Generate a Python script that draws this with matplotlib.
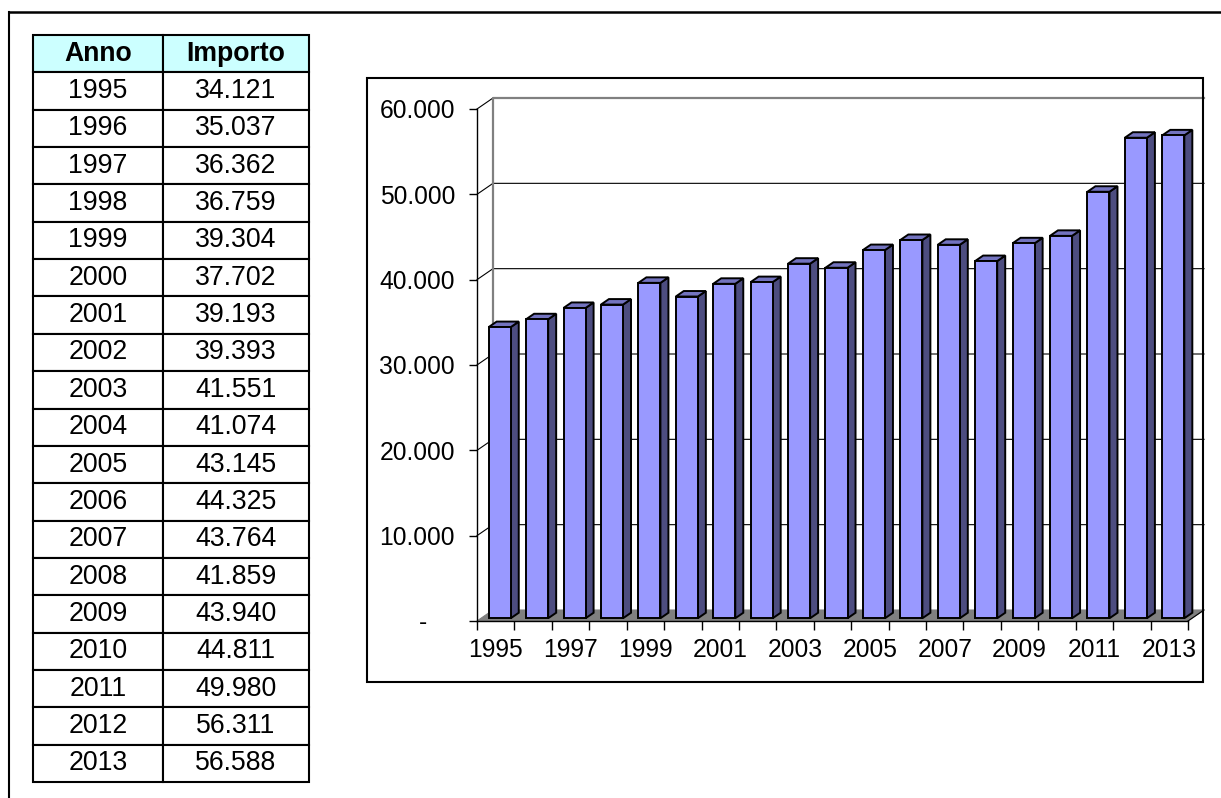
import matplotlib
matplotlib.use('Agg')
import matplotlib.pyplot as plt
from matplotlib.patches import Polygon, Rectangle
from matplotlib.lines import Line2D
from matplotlib.ticker import NullFormatter

# Dati
anni = [1995, 1996, 1997, 1998, 1999, 2000, 2001, 2002, 2003, 2004,
        2005, 2006, 2007, 2008, 2009, 2010, 2011, 2012, 2013]
importi = [34121, 35037, 36362, 36759, 39304, 37702, 39193, 39393, 41551, 41074,
           43145, 44325, 43764, 41859, 43940, 44811, 49980, 56311, 56588]
intestazioni = ['Anno', 'Importo']
tick_valori = [0, 10000, 20000, 30000, 40000, 50000, 60000]


def fmt(v):
    # separatore delle migliaia all'italiana
    return f"{v:,}".replace(",", ".")


plt.rcParams['font.family'] = ['Liberation Sans', 'DejaVu Sans']

W, H = 1221, 798
fig = plt.figure(figsize=(W / 100, H / 100), dpi=100)
fig.patch.set_facecolor('white')


def fx(px):
    return px / W


def fy(py):
    return 1 - py / H


# cornice esterna (tagliata a destra e in basso)
fig.add_artist(Line2D([fx(9), 1], [fy(11.5), fy(11.5)], color='black', lw=1.8))
fig.add_artist(Line2D([fx(9), fx(9)], [fy(11.5), 0], color='black', lw=1.5))

# tabella
ax_t = fig.add_axes([fx(33), fy(782), fx(309) - fx(33), fy(35) - fy(782)])
ax_t.axis('off')
righe = [[str(a), fmt(v)] for a, v in zip(anni, importi)]
tab = ax_t.table(cellText=righe, colLabels=intestazioni, cellLoc='center',
                 colWidths=[130 / 276, 146 / 276], bbox=[0, 0, 1, 1])
tab.auto_set_font_size(False)
tab.set_fontsize(19.2)
for (r, c), cella in tab.get_celld().items():
    cella.set_linewidth(1.5)
    cella.set_edgecolor('black')
    if r == 0:
        cella.set_facecolor('#CCFFFF')
        cella.get_text().set_fontweight('bold')

# riquadro del grafico
fig.add_artist(Rectangle((fx(367), fy(682)), fx(1203) - fx(367), fy(78) - fy(682),
                         fill=False, ec='black', lw=1.5))

# grafico a colonne 3D
ax = fig.add_axes([fx(477), fy(621), fx(1188) - fx(477), fy(109) - fy(621)])
ax.set_facecolor('none')
n = len(anni)
x = list(range(n))
ax.set_xlim(-0.5, n - 0.5)
ax.set_ylim(0, 60000)

inv = ax.transData.inverted()


def spost(px, py):
    a = inv.transform((0, 0))
    b = inv.transform((px, py))
    return b[0] - a[0], b[1] - a[1]


DX, DY = spost(16, 11)   # profondità delle pareti
x0, x1 = -0.5, n - 0.5

# pavimento
ax.add_patch(Polygon([(x0, 0), (x1, 0), (x1 + DX, DY), (x0 + DX, DY)], closed=True,
                     fc='#808080', ec='#808080', lw=0.8, clip_on=False, zorder=1))
ax.plot([x1, x1 + DX], [0, DY], color='black', lw=0.8, clip_on=False, zorder=2)

# griglia sulle pareti
for t in tick_valori[1:-1]:
    ax.plot([x0, x0 + DX, x1 + DX], [t, t + DY, t + DY], color='black', lw=0.8,
            clip_on=False, zorder=1)
ax.plot([x0, x0 + DX], [60000, 60000 + DY], color='black', lw=0.8, clip_on=False, zorder=1)
ax.plot([x0 + DX, x0 + DX, x1 + DX], [DY, 60000 + DY, 60000 + DY], color='#808080',
        lw=1.6, clip_on=False, zorder=1)

# colonne
larg = 0.59
fx_b, fy_b = DX / 4, DY / 4      # faccia frontale a 1/4 della profondità
px_b, py_b = DX / 2, DY / 2      # spessore della colonna
xs = [i + fx_b for i in x]
ax.bar(xs, importi, width=larg, bottom=fy_b, color='#9999FF', edgecolor='black',
       linewidth=1.4, zorder=4, clip_on=False)
for xc, v in zip(xs, importi):
    xl, xr = xc - larg / 2, xc + larg / 2
    yt = fy_b + v
    ax.add_patch(Polygon([(xr, fy_b), (xr, yt), (xr + px_b, yt + py_b), (xr + px_b, fy_b + py_b)],
                         closed=True, fc='#4D4D80', ec='black', lw=1.4, clip_on=False, zorder=3))
    ax.add_patch(Polygon([(xl, yt), (xr, yt), (xr + px_b, yt + py_b), (xl + px_b, yt + py_b)],
                         closed=True, fc='#7373BF', ec='black', lw=1.4, clip_on=False, zorder=3))

# assi
for s in ['top', 'right']:
    ax.spines[s].set_visible(False)
ax.spines['left'].set_linewidth(1)
ax.spines['bottom'].set_linewidth(1)
ax.spines['left'].set_zorder(5)
ax.spines['bottom'].set_zorder(5)

ax.set_yticks(tick_valori)
ax.set_yticklabels(['-    ' if t == 0 else fmt(t) for t in tick_valori])
ax.tick_params(axis='y', direction='out', length=5.8, width=1, pad=10, labelsize=17.7)

ax.set_xticks([i - 0.5 for i in range(n + 1)])
ax.xaxis.set_major_formatter(NullFormatter())
ax.set_xticks(x, minor=True)
ax.set_xticklabels([str(a) if i % 2 == 0 else '' for i, a in enumerate(anni)], minor=True)
ax.tick_params(axis='x', which='major', direction='out', length=6.5, width=1)
ax.tick_params(axis='x', which='minor', length=0, pad=12.5, labelsize=17.7)

fig.savefig('out.png', dpi=100)
